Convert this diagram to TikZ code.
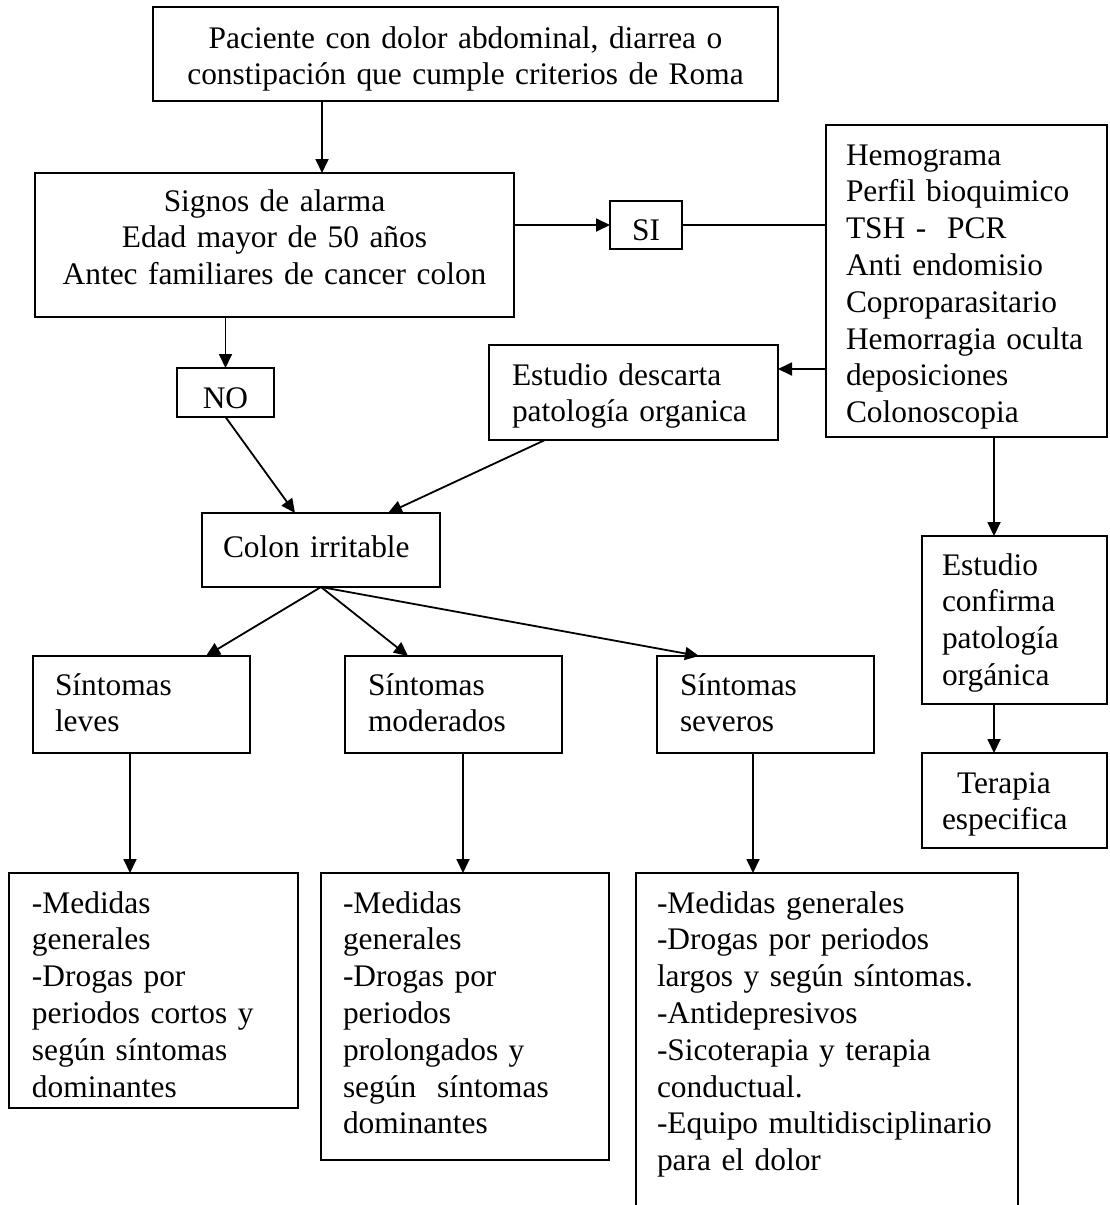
\documentclass[tikz,border=0pt]{standalone}
\usepackage{fontspec}
\setmainfont{Liberation Serif}
\usetikzlibrary{arrows.meta}
\hyphenpenalty=10000
\exhyphenpenalty=10000

\begin{document}
\begin{tikzpicture}[x=0.5pt, y=-0.5pt,
    caja/.style={draw, line width=1pt, outer sep=0pt, inner ysep=0pt, anchor=north west,
      font=\fontsize{15.7pt}{18.4pt}\selectfont},
    centrada/.style={caja, align=center, inner xsep=0pt},
    izq/.style={caja, align=left},
    linea/.style={line width=0.9pt},
    flecha/.style={linea, -{Triangle[length=7pt, width=6.5pt]}}]
  \useasboundingbox (0,0) rectangle (1109,1205);
  % upper part
  \node[centrada, text width=312.5pt, text height=20.5pt, text depth=26.5pt] (paciente) at (153,7)
    {Paciente con dolor abdominal, diarrea o\\constipación que cumple criterios de Roma};
  \node[centrada, text width=239.5pt, text height=19pt, text depth=53pt] (signos) at (35,173)
    {Signos de alarma\\Edad mayor de 50 años\\Antec familiares de cancer colon};
  \node[centrada, text width=36pt, text height=19.5pt, text depth=4.5pt] (si) at (610,201) {SI};
  \node[centrada, text width=48.5pt, text height=20pt, text depth=4.5pt] (no) at (177,368) {NO};
  \node[izq, inner xsep=10pt, text width=120.5pt, text height=20pt, text depth=136pt] (hemo) at (826,125)
    {Hemograma\\Perfil bioquimico\\TSH -\ \ PCR\\Anti endomisio\\Coproparasitario\\Hemorragia~oculta\\deposiciones\\Colonoscopia};
  \node[izq, inner xsep=11.5pt, text width=121.5pt, text height=20pt, text depth=27.5pt] (descarta) at (489,345)
    {Estudio descarta\\patología organica};
  \node[izq, inner xsep=10.5pt, text width=98pt, text height=22pt, text depth=15pt] (colon) at (202,513)
    {Colon irritable};
  % right column
  \node[izq, inner xsep=10pt, text width=72.5pt, text height=19.5pt, text depth=64.5pt] (confirma) at (922,536)
    {Estudio\\confirma\\patología\\orgánica};
  \node[izq, inner xsep=10pt, text width=72.5pt, text height=20pt, text depth=27.5pt] (terapia) at (922,753)
    {\hspace*{7.5pt}Terapia\\especifica};
  % symptoms
  \node[izq, inner xsep=11pt, text width=86.5pt, text height=19.5pt, text depth=29pt] (leves) at (33,656)
    {Síntomas\\leves};
  \node[izq, inner xsep=11.5pt, text width=85.5pt, text height=19.5pt, text depth=29pt] (moderados) at (345,656)
    {Síntomas\\moderados};
  \node[izq, inner xsep=11.5pt, text width=85.5pt, text height=19.5pt, text depth=29pt] (severos) at (657,656)
    {Síntomas\\severos};
  % treatments
  \node[izq, inner xsep=11.5pt, text width=121.5pt, text height=20pt, text depth=97.5pt] (medleves) at (9,873)
    {-Medidas\\generales\\-Drogas por\\periodos cortos y\\según síntomas\\dominantes};
  \node[izq, inner xsep=11pt, text width=122pt, text height=20pt, text depth=123.5pt] (medmod) at (321,873)
    {-Medidas\\generales\\-Drogas por\\periodos\\prolongados y\\según\ \ síntomas\\dominantes};
  \node[izq, inner xsep=10.5pt, text width=170pt, text height=20pt, text depth=151pt] (medsev) at (636,873)
    {-Medidas generales\\-Drogas por periodos\\largos y según síntomas.\\-Antidepresivos\\-Sicoterapia y terapia\\conductual.\\-Equipo~multidisciplinario\\para el dolor};
  % connectors
  \coordinate (c1) at ([xshift=84.5pt]paciente.south west);
  \draw[flecha] (c1) -- (c1 |- signos.north);
  \draw[flecha] (signos.east |- si.west) -- (si.west);
  \draw[linea] (si.east) -- (si.east -| hemo.west);
  \coordinate (c2) at ([yshift=-12pt]descarta.north east);
  \draw[flecha] (c2 -| hemo.west) -- (c2);
  \draw[flecha] (no.north |- signos.south) -- (no.north);
  \draw[flecha] (no.south) -- ([xshift=46.5pt]colon.north west);
  \draw[flecha] ([xshift=28pt]descarta.south west) -- ([xshift=93pt]colon.north west);
  \coordinate (c3) at ([xshift=84pt]hemo.south west);
  \draw[flecha] (c3) -- (c3 |- confirma.north);
  \draw[flecha] (c3 |- confirma.south) -- (c3 |- terapia.north);
  \draw[flecha] (colon.south) -- ([xshift=86.5pt]leves.north west);
  \draw[flecha] (colon.south) -- ([xshift=31.5pt]moderados.north west);
  \draw[flecha] (colon.south) -- ([xshift=21pt]severos.north west);
  \foreach \a/\b/\s in {leves/medleves/48.5pt, moderados/medmod/59pt, severos/medsev/48pt} {
    \coordinate (t) at ([xshift=\s]\a.south west);
    \draw[flecha] (t) -- (t |- \b.north);
  }
\end{tikzpicture}
\end{document}
